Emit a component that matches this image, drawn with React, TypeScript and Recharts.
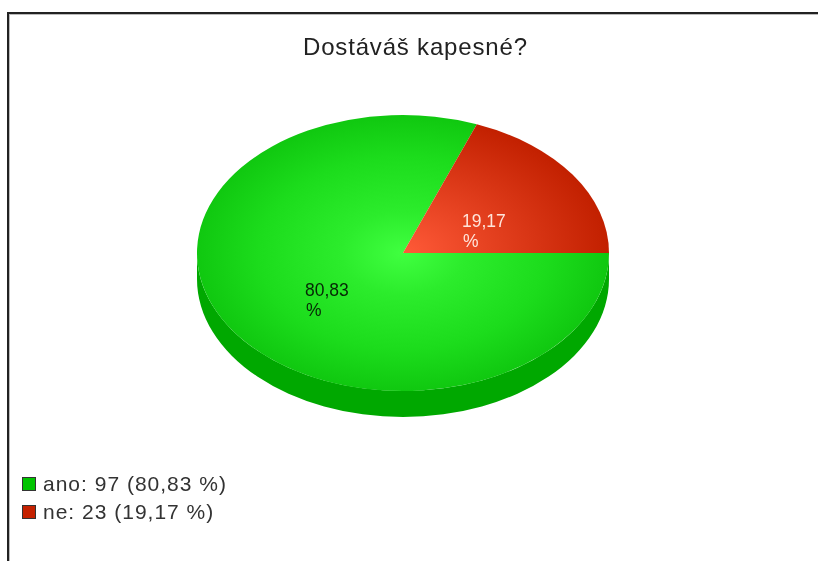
import React from "react";
import { PieChart, Pie, Cell, Legend } from "recharts";

const categories = ["ano", "ne"];
const counts = [97, 23];
const percents = ["80,83", "19,17"];
const title = "Dostáváš kapesné?";

const rows = categories.map((name, i) => ({ name, value: counts[i], pct: percents[i] }));

const W = 818, H = 561;
const CX = 403, CY = 253, R = 206, SQUASH = 138 / 206, DEPTH = 26;
const START = 69;
const FONT = "'Liberation Sans', Arial, sans-serif";
const legendFill = ["#00c400", "#c42100"];
const topFill = ["url(#gGreen)", "url(#gRed)"];
const labelColor = ["#062806", "#ffe4da"];
const labelOffset = [[-98, 43], [59, -26]];

const pt = (a: number, cx: number, cy: number, r: number) => {
  const t = (a * Math.PI) / 180;
  return [cx + r * Math.cos(t), cy - r * SQUASH * Math.sin(t)];
};

function TopSlice(p: any) {
  const [x1, y1] = pt(p.startAngle, p.cx, p.cy, p.outerRadius);
  const [x2, y2] = pt(p.endAngle, p.cx, p.cy, p.outerRadius);
  const large = Math.abs(p.endAngle - p.startAngle) > 180 ? 1 : 0;
  const ry = p.outerRadius * SQUASH;
  const d = `M${p.cx},${p.cy}L${x1},${y1}A${p.outerRadius},${ry} 0 ${large} 0 ${x2},${y2}Z`;
  return <path d={d} fill={p.fill} />;
}

function WallSlice(p: any) {
  // side wall: only the part of the rim on the lower half of the ellipse is visible
  const a0 = Math.max(p.startAngle, 180);
  const a1 = Math.min(p.endAngle, 360);
  if (a1 <= a0) return <g />;
  const [x1, y1] = pt(a0, p.cx, p.cy, p.outerRadius);
  const [x2, y2] = pt(a1, p.cx, p.cy, p.outerRadius);
  const ry = p.outerRadius * SQUASH;
  const d = `M${x1},${y1}A${p.outerRadius},${ry} 0 0 0 ${x2},${y2}L${x2},${y2 + DEPTH}A${p.outerRadius},${ry} 0 0 1 ${x1},${y1 + DEPTH}Z`;
  return <path d={d} fill="#00a800" />;
}

function renderLabel(p: any) {
  const i = p.index;
  const x = p.cx + labelOffset[i][0];
  const y = p.cy + labelOffset[i][1];
  return (
    <text x={x} y={y} fill={labelColor[i]} fontFamily={FONT} fontSize={17.5}>
      <tspan x={x}>{rows[i].pct}</tspan>
      <tspan x={x + 1} dy={20}>%</tspan>
    </text>
  );
}

function LegendBox(props: any) {
  const names = Array.from(new Set((props.payload || []).map((e: any) => e.value)));
  return (
    <div style={{ fontFamily: FONT, fontSize: 21, color: "#333", lineHeight: "28px", letterSpacing: 1 }}>
      {rows.filter((r) => names.includes(r.name)).map((r, i) => (
        <div key={r.name} style={{ display: "flex", alignItems: "center", height: 28 }}>
          <span style={{ width: 12, height: 12, background: legendFill[i], border: "1px solid #333", marginRight: 7, display: "inline-block", flex: "none" }} />
          <span style={{ whiteSpace: "nowrap" }}>{`${r.name}: ${r.value} (${r.pct} %)`}</span>
        </div>
      ))}
    </div>
  );
}

export default function App() {
  return (
    <div style={{ position: "absolute", left: 0, top: 0, width: W, height: H, overflow: "hidden", background: "#fff", filter: "blur(0.6px)" }}>
      <div style={{ position: "absolute", left: 7, top: 12, right: -4, bottom: -4, borderLeft: "2px solid #222", borderTop: "2px solid #222" }} />
      <div style={{ position: "absolute", left: 9, top: 14, right: -4, bottom: -4, borderLeft: "1px solid #bbb", borderTop: "1px solid #bbb" }} />
      <PieChart width={W} height={H} margin={{ top: 0, right: 0, bottom: 0, left: 0 }} style={{ position: "absolute", left: 0, top: 0 }}>
        <defs>
          <radialGradient id="gGreen" gradientUnits="userSpaceOnUse" cx={0} cy={0} r={1} gradientTransform={`translate(${CX} ${CY}) scale(${R} ${R * SQUASH})`}>
            <stop offset="0" stopColor="#40ff40" />
            <stop offset="0.3" stopColor="#2cec2c" />
            <stop offset="0.7" stopColor="#1cdc1c" />
            <stop offset="1" stopColor="#10c810" />
          </radialGradient>
          <radialGradient id="gRed" gradientUnits="userSpaceOnUse" cx={0} cy={0} r={1} gradientTransform={`translate(${CX} ${CY}) scale(${R} ${R * SQUASH})`}>
            <stop offset="0" stopColor="#ff5a38" />
            <stop offset="1" stopColor="#c22000" />
          </radialGradient>
        </defs>
        <text x={415} y={55} textAnchor="middle" fontFamily={FONT} fontSize={24} fill="#222" textLength={224} lengthAdjust="spacing">{title}</text>
        <Pie data={rows} dataKey="value" nameKey="name" cx={CX} cy={CY} innerRadius={0} outerRadius={R} startAngle={START} endAngle={START + 360} stroke="none" isAnimationActive={false} shape={WallSlice} legendType="none" />
        <Pie data={rows} dataKey="value" nameKey="name" cx={CX} cy={CY} innerRadius={0} outerRadius={R} startAngle={START} endAngle={START + 360} stroke="none" isAnimationActive={false} shape={TopSlice} label={renderLabel} labelLine={false}>
          {rows.map((r, i) => <Cell key={r.name} fill={topFill[i]} />)}
        </Pie>
        <Legend content={LegendBox} layout="vertical" wrapperStyle={{ position: "absolute", left: 22, top: 470, width: 300, bottom: "auto" }} />
      </PieChart>
    </div>
  );
}
